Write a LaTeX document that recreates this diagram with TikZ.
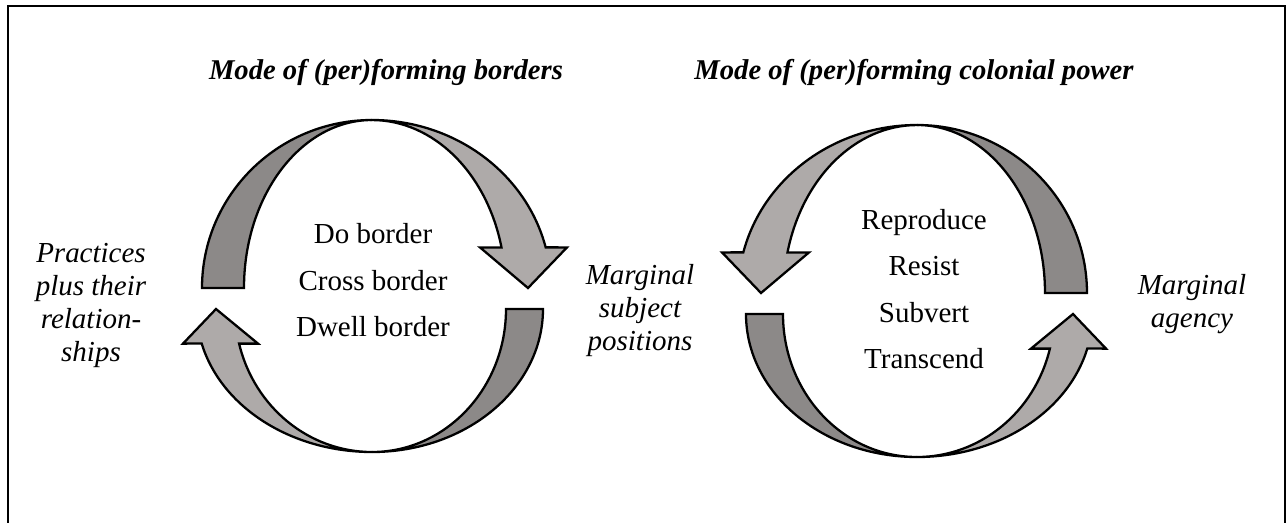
\documentclass[tikz,border=0pt]{standalone}
\usepackage{fontspec}
\setmainfont{Liberation Serif}
\usetikzlibrary{positioning}
\definecolor{banddark}{RGB}{140,137,136}
\definecolor{bandlight}{RGB}{174,170,169}
\tikzset{
    darkband/.style={draw=black, line width=1.3pt, fill=banddark},
    lightband/.style={draw=black, line width=1.3pt, fill=bandlight},
    modetitle/.style={inner sep=0pt, font=\fontsize{16.3}{19}\selectfont\bfseries\itshape},
    modelist/.style={inner sep=0pt, align=center, font=\fontsize{16.5}{26.5}\selectfont},
    sidelabel/.style={inner sep=0pt, align=center, font=\fontsize{16.5}{18.8}\selectfont\itshape}
}
% one cycle of two curved arrows, (0,0) = top crossing, y runs down
\newcommand{\cyclearrows}{%
    \draw [darkband] (0,0) arc[start angle=270, end angle=180, x radius=170, y radius=168]
        -- (-128,168) arc[start angle=180, end angle=270, x radius=128, y radius=168] -- cycle;
    \draw [lightband] (0,0) arc[start angle=270, end angle=346, x radius=179, y radius=168]
        -- (195,127.4) -- (156,168) -- (108,127.4) -- (129.5,127.4)
        arc[start angle=346, end angle=270, x radius=133.5, y radius=168] -- cycle;
    \draw [darkband] (0,332) arc[start angle=90, end angle=0, x radius=171, y radius=143]
        -- (134,189) arc[start angle=0, end angle=90, x radius=134, y radius=143] -- cycle;
    \draw [lightband] (0,332) arc[start angle=90, end angle=166, x radius=175.5, y radius=143]
        -- (-189,223.6) -- (-156,189) -- (-114,223.6) -- (-132.9,223.6)
        arc[start angle=166, end angle=90, x radius=137, y radius=143] -- cycle;
}

\begin{document}
\begin{tikzpicture}[x=0.02cm, y=-0.02cm]
    \useasboundingbox (0,0) rectangle (1286,522);
    \draw [line width=1.3pt] (8,540) -- (8,6) -- (1285,6) -- (1285,540);

    % left cycle: borders
    \begin{scope}[shift={(372,120)}]
        \cyclearrows
    \end{scope}
    % right cycle: colonial power (mirrored)
    \begin{scope}[shift={(917,125)}, xscale=-1]
        \cyclearrows
    \end{scope}

    \node [modetitle] (bordertitle) at (386,72) {Mode of (per)forming borders};
    \node [modetitle] (powertitle) at (914,72) {Mode of (per)forming colonial power};

    \node [modelist] (borderacts) at (373,280.5) {Do border\\Cross border\\Dwell border};
    \node [modelist] (poweracts) at (924,289) {Reproduce\\Resist\\Subvert\\Transcend};

    \node [sidelabel] (practices) at (91,305.5) {Practices\\plus their\\relation-\\ships};
    \node [sidelabel] (subjects) at (640,310.5) {Marginal\\subject\\positions};
    \node [sidelabel] (agency) at (1192,304.5) {Marginal\\agency};
\end{tikzpicture}
\end{document}
